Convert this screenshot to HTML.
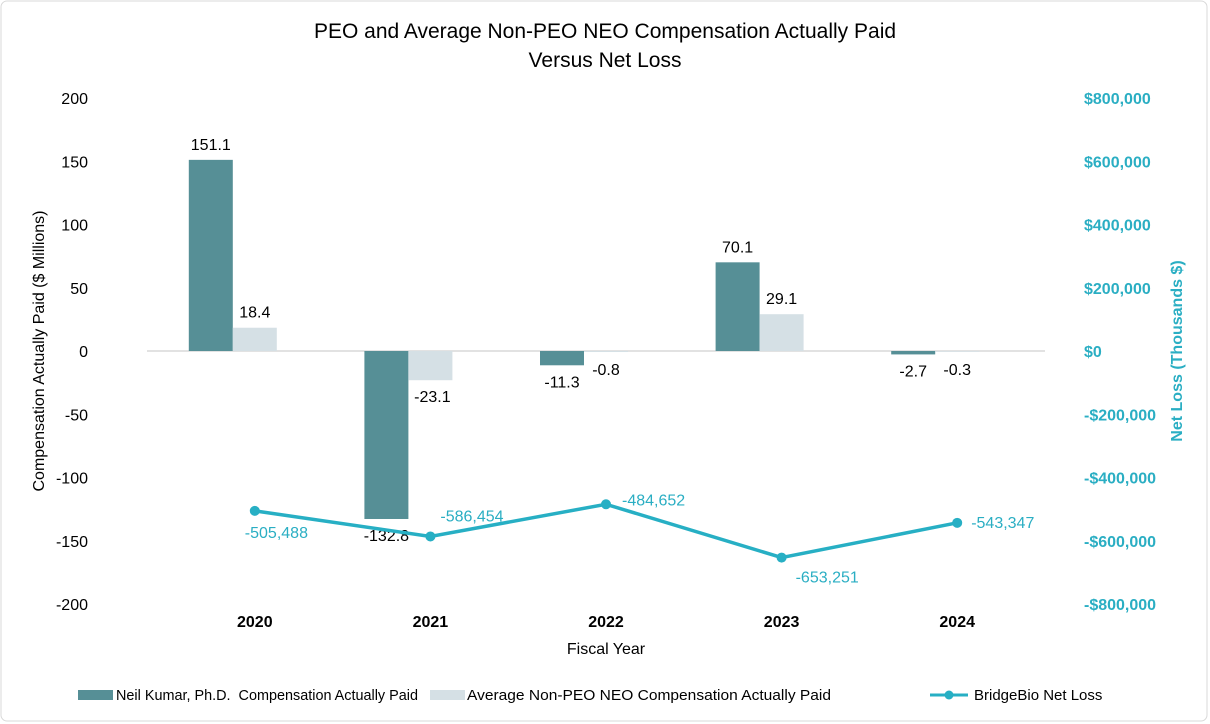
<!DOCTYPE html>
<html><head><meta charset="utf-8"><style>
html,body{margin:0;padding:0;background:#fff;}
svg{display:block;font-family:"Liberation Sans",Arial,sans-serif;}
</style></head><body>
<svg id="chart" width="1210" height="724" viewBox="0 0 1210 724">
<rect x="1" y="1" width="1206" height="720" rx="6" fill="#fff" stroke="#d9d9d9"/>
<text x="605" y="38" text-anchor="middle" font-size="21" fill="#000">PEO and Average Non-PEO NEO Compensation Actually Paid</text>
<text x="605" y="67" text-anchor="middle" font-size="21" fill="#000">Versus Net Loss</text>
<g id="grid"></g><g id="bars"></g><g id="line"></g><g id="axes"></g>
<text x="44" y="351" transform="rotate(-90 44 351)" text-anchor="middle" font-size="16" fill="#000">Compensation Actually Paid ($ Millions)</text>
<text x="1182" y="351" transform="rotate(-90 1182 351)" text-anchor="middle" font-size="16" font-weight="bold" fill="#2aaec3">Net Loss (Thousands $)</text>
<text x="606" y="654" text-anchor="middle" font-size="16" fill="#000">Fiscal Year</text>
<g font-size="15" fill="#000">
<rect x="78" y="690" width="35" height="10" fill="#568f96"/>
<text x="116" y="700" textLength="302" lengthAdjust="spacingAndGlyphs">Neil Kumar, Ph.D.&#160; Compensation Actually Paid</text>
<rect x="430" y="690" width="35" height="10" fill="#d5e0e5"/>
<text x="467" y="700" textLength="364" lengthAdjust="spacingAndGlyphs">Average Non-PEO NEO Compensation Actually Paid</text>
<line x1="930" y1="695" x2="968" y2="695" stroke="#27afc4" stroke-width="3"/>
<circle cx="949" cy="695" r="4.5" fill="#27afc4"/>
<text x="974" y="700">BridgeBio Net Loss</text>
</g>
</svg>
<script>
const categories=["2020","2021","2022","2023","2024"];
const peoValues=[151.1,-132.8,-11.3,70.1,-2.7];
const neoValues=[18.4,-23.1,-0.8,29.1,-0.3];
const netLoss=[-505488,-586454,-484652,-653251,-543347];
const leftTicks=[200,150,100,50,0,-50,-100,-150,-200];
const rightTicks=[800000,600000,400000,200000,0,-200000,-400000,-600000,-800000];
const NS="http://www.w3.org/2000/svg";
const plotTop=98,plotBot=604,plotL=167,plotR=1045;
const yL=v=>plotTop+(200-v)/400*(plotBot-plotTop);
const yR=v=>plotTop+(800000-v)/1600000*(plotBot-plotTop);
const step=(plotR-plotL)/categories.length;
const xC=i=>plotL+step*(i+0.5);
const bw=44;
function mk(tag,attrs,parent,txt){const e=document.createElementNS(NS,tag);for(const k in attrs)e.setAttribute(k,attrs[k]);if(txt!==undefined)e.textContent=txt;document.getElementById(parent).appendChild(e);return e;}
const fmt=v=>(v<0?"-":"")+Math.abs(v).toLocaleString("en-US");
const fmtD=v=>(v<0?"-$":"$")+Math.abs(v).toLocaleString("en-US");
let z=mk("line",{x1:plotL-20,x2:plotR,y1:yL(0),y2:yL(0),stroke:"#d9d9d9","stroke-width":1.5},"grid");


leftTicks.forEach(t=>{const e=mk("text",{x:88,y:yL(t)+6,"text-anchor":"end","font-size":16,fill:"#000"},"axes",String(t));

});
rightTicks.forEach(t=>{const e=mk("text",{x:1084,y:yR(t)+6,"font-size":16,"font-weight":"bold",fill:"#2aaec3"},"axes",fmtD(t));

});
categories.forEach((c,i)=>{const e=mk("text",{x:xC(i),y:627,"text-anchor":"middle","font-size":16,"font-weight":"bold",fill:"#000"},"axes",c);

});
categories.forEach((c,i)=>{
 const x0=xC(i)-66;
 [[peoValues[i],"#568f96",x0,"bar-peo"],[neoValues[i],"#d5e0e5",x0+bw,"bar-neo"]].forEach(([v,col,x,n],k)=>{
  const y1=Math.min(yL(v),yL(0)),h=Math.abs(yL(v)-yL(0));
  const r=mk("rect",{x:x,y:y1,width:bw,height:Math.max(h,0.8),fill:col},"bars");
  
  
  let lx,ly;
  if(v>=0){lx=x+bw/2;ly=yL(v)-10;}
  else if(k===0){lx=x+bw/2;ly=yL(v)+22;}
  else{lx=x+bw/2+2;ly=yL(v)+22;}
  if(k===1&&v<0&&h<10){lx=x+bw/2;ly=yL(0)+24;}
  const t=mk("text",{x:lx,y:ly,"text-anchor":"middle","font-size":16,fill:"#000"},"bars",String(v));
  
  
 });
});
const pts=netLoss.map((v,i)=>xC(i)+","+yR(v)).join(" ");
const pl=mk("polyline",{points:pts,fill:"none",stroke:"#27afc4","stroke-width":3.5},"line");


const offs=[[-10,22,"start"],[10,-20,"start"],[16,-4,"start"],[14,20,"start"],[14,0,"start"]];
netLoss.forEach((v,i)=>{
 const c=mk("circle",{cx:xC(i),cy:yR(v),r:5,fill:"#27afc4"},"line");
 
 
 const o=offs[i];
 const t=mk("text",{x:xC(i)+o[0],y:yR(v)+o[1]+5,"text-anchor":o[2],"font-size":16,fill:"#2aaec3"},"line",fmt(v));
 
 
});
</script>
</body></html>
